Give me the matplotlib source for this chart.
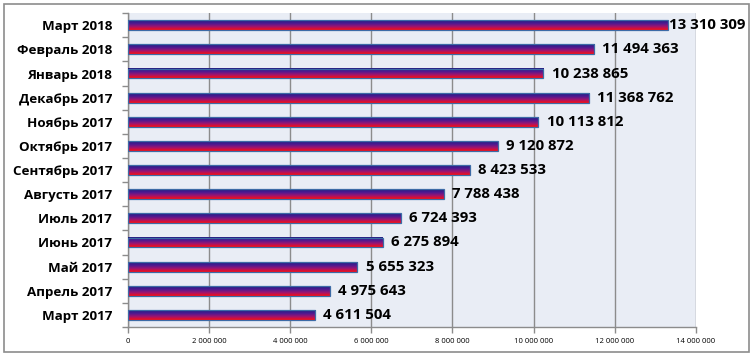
import matplotlib
matplotlib.use("Agg")
import matplotlib.pyplot as plt
import numpy as np
from matplotlib.colors import LinearSegmentedColormap
from matplotlib.patches import Rectangle

months = [
    "Март 2017", "Апрель 2017", "Май 2017", "Июнь 2017", "Июль 2017",
    "Августь 2017", "Сентябрь 2017", "Октябрь 2017", "Ноябрь 2017",
    "Декабрь 2017", "Январь 2018", "Февраль 2018", "Март 2018",
]
values = [
    4611504, 4975643, 5655323, 6275894, 6724393, 7788438, 8423533,
    9120872, 10113812, 11368762, 10238865, 11494363, 13310309,
]
xticks = [0, 2000000, 4000000, 6000000, 8000000, 10000000, 12000000, 14000000]


def fmt_num(v):
    return f"{v:,}".replace(",", " ")


plt.rcParams["font.family"] = ["Open Sans", "DejaVu Sans"]

fig = plt.figure(figsize=(7.53, 3.56), dpi=100)
ax = fig.add_axes([0.170, 0.0815, 0.754, 0.8815])
ax.set_facecolor("#e9edf5")

# outer chart border
fig.patches.append(Rectangle((4 / 753, 4 / 356), 745 / 753, 348 / 356,
                             transform=fig.transFigure, fill=False,
                             edgecolor="#8c8c8c", linewidth=1.2))

cmap = LinearSegmentedColormap.from_list(
    "bar", ["#1e1c80", "#4f1a92", "#a0146e", "#ff0d0d"])
grad = np.linspace(0, 1, 64).reshape(-1, 1)

h = 0.41
ypos = np.arange(len(months))
for y, v in zip(ypos, values):
    ax.imshow(grad, cmap=cmap, aspect="auto", origin="upper",
              extent=(0, v, y - h / 2, y + h / 2), zorder=3,
              interpolation="bilinear")
ax.barh(ypos, values, height=h, fill=False, edgecolor="#3d6ba6",
        linewidth=0.9, zorder=4)

for i, (y, v) in enumerate(zip(ypos, values)):
    off = 1 if v == max(values) else 6
    ax.annotate(fmt_num(v), (v, y), xytext=(off, 0), textcoords="offset points",
                ha="left", va="center", fontsize=10.8, fontweight="bold",
                color="black", zorder=5, annotation_clip=False)

ax.set_xlim(0, 14000000)
ax.set_ylim(-0.5, len(months) - 0.5)
ax.set_xticks(xticks)
ax.set_xticklabels([fmt_num(t) for t in xticks], fontsize=5.5)
ax.set_yticks(ypos)
ax.set_yticklabels(months, fontsize=9.6, fontweight="bold")
ax.set_yticks(np.arange(-0.5, len(months)), minor=True)
ax.tick_params(axis="y", which="major", length=0, pad=11.5)
ax.tick_params(axis="y", which="minor", length=4, color="#8c8c8c", width=1)
ax.tick_params(axis="x", length=4, color="#8c8c8c", width=1, pad=4)

ax.grid(True, axis="x", color="#8c8c8c", linewidth=1, zorder=1)
ax.set_axisbelow(True)
for s in ["top", "right"]:
    ax.spines[s].set_visible(False)
for s in ["left", "bottom"]:
    ax.spines[s].set_color("#8c8c8c")
    ax.spines[s].set_linewidth(1)

fig.savefig("out.png", dpi=100)
